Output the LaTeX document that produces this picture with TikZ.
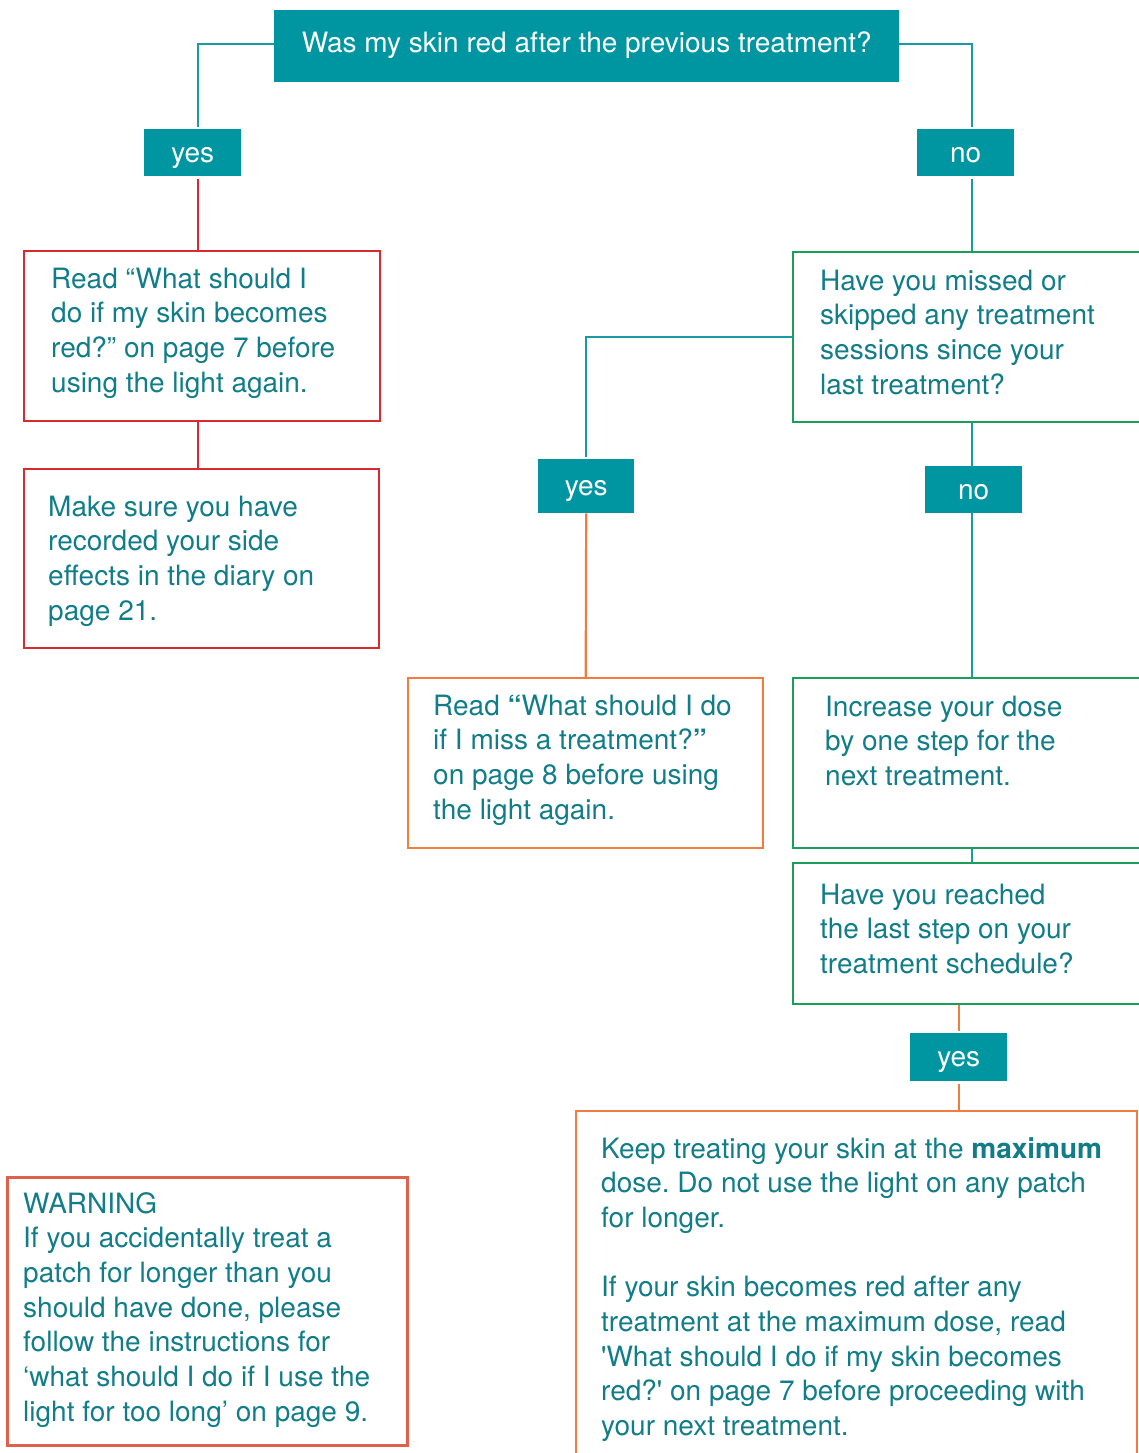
\documentclass[tikz,border=0pt]{standalone}
\usepackage{fontspec}
\setmainfont{TeX Gyre Heros}
\frenchspacing
\definecolor{tealfill}{HTML}{0096A1}
\definecolor{tealline}{HTML}{1A99A6}
\definecolor{tealtext}{HTML}{117D88}
\definecolor{redc}{HTML}{DA2A30}
\definecolor{greenc}{HTML}{1C9E5B}
\definecolor{orangec}{HTML}{F07D3E}
\definecolor{warnc}{HTML}{E0614B}
\newcommand\bodyfont{\fontsize{28}{34.7}\selectfont}
\tikzset{
  lbl/.style={fill=tealfill, text=white, font=\bodyfont, anchor=north west, inner sep=0pt,
              minimum width=97pt, minimum height=47pt, text height=19pt, text depth=0pt},
  frame/.style={draw=#1, line width=2.4pt, anchor=north west, inner sep=0pt},
  txt/.style={anchor=base west, inner sep=0pt, text=tealtext, font=\bodyfont},
  tconn/.style={draw=tealline, line width=2.2pt},
  rconn/.style={draw=redc, line width=2.2pt},
  oconn/.style={draw=orangec, line width=2.2pt},
}
\newcommand\lines[1]{\parbox[t]{560pt}{#1}}
\begin{document}
\begin{tikzpicture}[x=1pt,y=-1pt]
\useasboundingbox (0,0) rectangle (1138,1453);
% column coordinates
\coordinate (cL) at (198,0);
\coordinate (cR) at (972,0);
\coordinate (cR2) at (959,0);

% title and labels
\node[lbl, minimum width=625pt, minimum height=72pt, text height=14pt, text depth=2pt] (title) at (274,10)
  {Was my skin red after the previous treatment?};
\node[lbl] (yes1) at (144,129) {yes};
\node[lbl] (no1) at (917,129) {no};
\node[lbl, minimum width=96pt, minimum height=54pt] (yes2) at (538,459) {yes};
\node[lbl] (no2) at (925,466) {no};
\node[lbl, minimum height=48pt] (yes3) at (910,1033) {yes};

% boxes
\node[frame=redc, minimum width=356pt, minimum height=170pt] (red1) at (23,250) {};
\node[frame=redc, minimum width=355pt, minimum height=179pt] (red2) at (23,468) {};
\node[frame=greenc, minimum width=360pt, minimum height=170pt] (green1) at (792,251) {};
\node[frame=orangec, minimum width=355pt, minimum height=170pt] (orange1) at (407,677) {};
\node[frame=greenc, minimum width=360pt, minimum height=170pt] (green2) at (792,677) {};
\node[frame=greenc, minimum width=360pt, minimum height=141pt] (green3) at (792,862) {};
\node[frame=orangec, minimum width=561pt, minimum height=360pt] (orange2) at (575,1110) {};
\node[frame=warnc, line width=2.8pt, minimum width=400pt, minimum height=268pt] (warn) at (6,1176) {};

% texts
\node[txt] (tred1) at (51,288) {\lines{Read “What should I\\do if my skin becomes\\red?” on page 7 before\\using the light again.}};
\node[txt] (tred2) at (48,516) {\lines{Make sure you have\\recorded your side\\effects in the diary on\\page 21.}};
\node[txt] (tgreen1) at (820,290) {\lines{Have you missed or\\skipped any treatment\\sessions since your\\last treatment?}};
\node[txt] (torange1) at (433,715) {\lines{Read \textbf{“}What should I do\\if I miss a treatment?\textbf{”}\\on page 8 before using\\the light again.}};
\node[txt] (tgreen2) at (825,716) {\lines{Increase your dose\\by one step for the\\next treatment.}};
\node[txt] (tgreen3) at (820,904) {\lines{Have you reached\\the last step on your\\treatment schedule?}};
\node[txt] (torange2) at (601,1158) {\lines{Keep treating your skin at the \textbf{maximum}\\dose. Do not use the light on any patch\\for longer.\\[34.7pt]If your skin becomes red after any\\treatment at the maximum dose, read\\\textquotesingle What should I do if my skin becomes\\red?\textquotesingle{} on page 7 before proceeding with\\your next treatment.}};
\node[txt] (twarn) at (23,1213) {\lines{WARNING\\If you accidentally treat a\\patch for longer than you\\should have done, please\\follow the instructions for\\‘what should I do if I use the\\light for too long’ on page 9.}};

% connectors
\draw[tconn, shorten >=2pt] ([yshift=2pt]title.west) -| (yes1.north -| cL);
\draw[rconn, shorten <=3pt] (yes1.south -| cL) -- (red1.north -| cL);
\draw[rconn] (red1.south -| cL) -- (red2.north -| cL);
\draw[tconn, shorten >=2pt] ([yshift=2pt]title.east) -| (no1.north -| cR);
\draw[tconn, shorten <=3pt] (no1.south -| cR) -- (green1.north -| cR);
\draw[tconn, shorten >=2pt] (green1.west) -| (yes2.north);
\draw[oconn] (yes2.south) -- (orange1.north);
\draw[tconn] (green1.south -| cR) -- (no2.north -| cR);
\draw[tconn] (no2.south -| cR) -- (green2.north -| cR);
\draw[tconn] (green2.south -| cR) -- (green3.north -| cR);
\draw[oconn, shorten >=2pt] (green3.south -| cR2) -- (yes3.north -| cR2);
\draw[oconn, shorten <=3pt] (yes3.south -| cR2) -- (orange2.north -| cR2);
\end{tikzpicture}
\end{document}
